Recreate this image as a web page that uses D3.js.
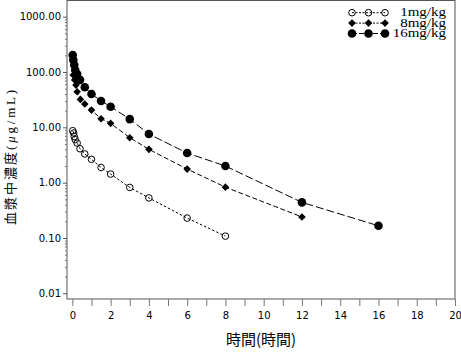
<!DOCTYPE html>
<html>
<head>
<meta charset="utf-8">
<script src="https://cdn.jsdelivr.net/npm/d3@7"></script>
<style>
  body { margin: 0; background: #fff; }
  svg { display: block; }
  .tick text { font-family: "DejaVu Sans", sans-serif; font-size: 10px; fill: #000; }
</style>
</head>
<body>
<div id="chart"></div>
<script>
// dose groups
const doses = ['1mg/kg', '8mg/kg', '16mg/kg'];

// time (hour) and plasma concentration (ug/mL)
const time1 = [0.02, 0.07, 0.1, 0.15, 0.25, 0.4, 0.65, 1, 1.5, 2, 3, 4, 6, 8];
const conc1 = [8.7, 7.9, 6.8, 6.0, 5.2, 4.1, 3.3, 2.64, 1.88, 1.43, 0.82, 0.53, 0.229, 0.108];

const time8 = [0.05, 0.12, 0.19, 0.25, 0.42, 0.65, 1, 1.5, 2, 3, 4, 6, 8, 12];
const conc8 = [88, 72, 58, 44, 32, 26.4, 20.5, 14.3, 11.8, 6.5, 4.0, 1.76, 0.83, 0.24];

const time16 = [0.02, 0.05, 0.1, 0.15, 0.25, 0.4, 0.65, 1, 1.5, 2, 3, 4, 6, 8, 12, 16];
const conc16 = [203, 165, 134, 109, 92, 72, 53, 40, 30, 23.6, 14.1, 7.56, 3.43, 2.0, 0.44, 0.166];

const xTicks = [0, 2, 4, 6, 8, 10, 12, 14, 16, 18, 20];
const yTicks = [0.01, 0.1, 1, 10, 100, 1000];

const width = 461, height = 352;
const plotL = 67, plotR = 455, plotT = 0.5, plotB = 299;

const svg = d3.select('#chart').append('svg')
  .attr('width', width).attr('height', height);

const x = d3.scaleLinear().domain([-0.28, 20]).range([plotL, plotR]);
const y = d3.scaleLog().domain([0.01, 1000]).range([293.3, 16.7]);

// frame
svg.append('rect')
  .attr('x', plotL).attr('y', plotT)
  .attr('width', plotR - plotL).attr('height', plotB - plotT)
  .attr('fill', 'none').attr('stroke', '#555').attr('stroke-width', 1);

// x axis
let xAxis = svg.append('g')
  .attr('transform', `translate(0,${plotB})`)
  .call(d3.axisBottom(x).tickValues(d3.range(0, 21, 1)).tickSize(7)
    .tickFormat(d => xTicks.includes(d) ? d : ''));
xAxis.select('.domain').remove();
xAxis.selectAll('line').attr('stroke', '#777');
xAxis.selectAll('text').attr('dy', '0.95em');

// y axis, decades plus minor ticks
let minor = [];
yTicks.slice(0, -1).forEach(function(d) {
  for (let k = 2; k <= 9; k++) minor.push(d * k);
});
let yMinor = svg.append('g')
  .attr('transform', `translate(${plotL},0)`)
  .call(d3.axisLeft(y).tickValues(minor).tickSize(2).tickFormat(''));
yMinor.select('.domain').remove();
yMinor.selectAll('line').attr('stroke', '#777');

let yAxis = svg.append('g')
  .attr('transform', `translate(${plotL},0)`)
  .call(d3.axisLeft(y).tickValues(yTicks).tickSize(4).tickPadding(2)
    .tickFormat(d3.format('.2f')));
yAxis.select('.domain').remove();
yAxis.selectAll('line').attr('stroke', '#555');

// axis titles
svg.append('text')
  .attr('x', (plotL + plotR) / 2).attr('y', 345)
  .attr('text-anchor', 'middle')
  .style('font-family', '"Noto Sans CJK JP", sans-serif').style('font-size', '15px')
  .text('時間(時間)');

let yTitle = svg.append('text')
  .attr('transform', 'translate(15,156) rotate(-90)')
  .attr('text-anchor', 'middle')
  .style('font-size', '13px');
yTitle.append('tspan').style('font-family', '"Noto Sans CJK JP", sans-serif').style('letter-spacing', '2px').text('血漿中濃度');
yTitle.append('tspan').style('font-family', '"Liberation Serif", serif').style('letter-spacing', '2.8px').text('(');
yTitle.append('tspan').style('font-family', '"Liberation Serif", serif').style('font-style', 'italic').style('letter-spacing', '2.8px').text('μ');
yTitle.append('tspan').style('font-family', '"Liberation Serif", serif').style('letter-spacing', '2.8px').text('g/mL)');

// series
const series = [
  {name: doses[0], t: time1, c: conc1, dash: '2.5,2', shape: 'open'},
  {name: doses[1], t: time8, c: conc8, dash: '5,2.5', shape: 'diamond'},
  {name: doses[2], t: time16, c: conc16, dash: '8,3', shape: 'filled'}
];

const line = d3.line().x(d => x(d[0])).y(d => y(d[1]));

function drawMarker(g, shape) {
  if (shape === 'open') {
    g.append('circle').attr('r', 3.3).attr('fill', 'none')
      .attr('stroke', '#000').attr('stroke-width', 1);
  } else if (shape === 'diamond') {
    g.append('path').attr('d', 'M0,-3.8L3.8,0L0,3.8L-3.8,0Z').attr('fill', '#000');
  } else {
    g.append('circle').attr('r', 4.3).attr('fill', '#000');
  }
}

series.forEach(function(s) {
  let pts = s.t.map((t, i) => [t, s.c[i]]);
  svg.append('path')
    .datum(pts)
    .attr('d', line)
    .attr('fill', 'none').attr('stroke', '#000').attr('stroke-width', 1)
    .attr('stroke-dasharray', s.dash);
  svg.append('g').selectAll('g')
    .data(pts).join('g')
    .attr('transform', d => `translate(${x(d[0])},${y(d[1])})`)
    .each(function() { drawMarker(d3.select(this), s.shape); });
});

// legend
const legX = [352, 368.5, 385];
series.forEach(function(s, i) {
  let ly = 12.7 + i * 10.4;
  let lg = svg.append('g');
  lg.append('line')
    .attr('x1', legX[0]).attr('x2', legX[2]).attr('y1', ly).attr('y2', ly)
    .attr('stroke', '#000').attr('stroke-dasharray', s.dash === '8,3' ? '5,2' : '2,1.5');
  legX.forEach(function(lx) {
    let m = lg.append('g').attr('transform', `translate(${lx},${ly})`);
    drawMarker(m, s.shape);
  });
  let t = lg.append('text')
    .attr('x', 446).attr('y', ly + 3.5)
    .attr('text-anchor', 'end')
    .style('font-family', '"Liberation Serif", serif').style('font-size', '12.5px')
    .text(s.name);
  // the original lettering is wider than Liberation Serif
  let w = t.node().getComputedTextLength();
  t.attr('textLength', w * 1.2).attr('lengthAdjust', 'spacingAndGlyphs');
});
</script>
</body>
</html>
